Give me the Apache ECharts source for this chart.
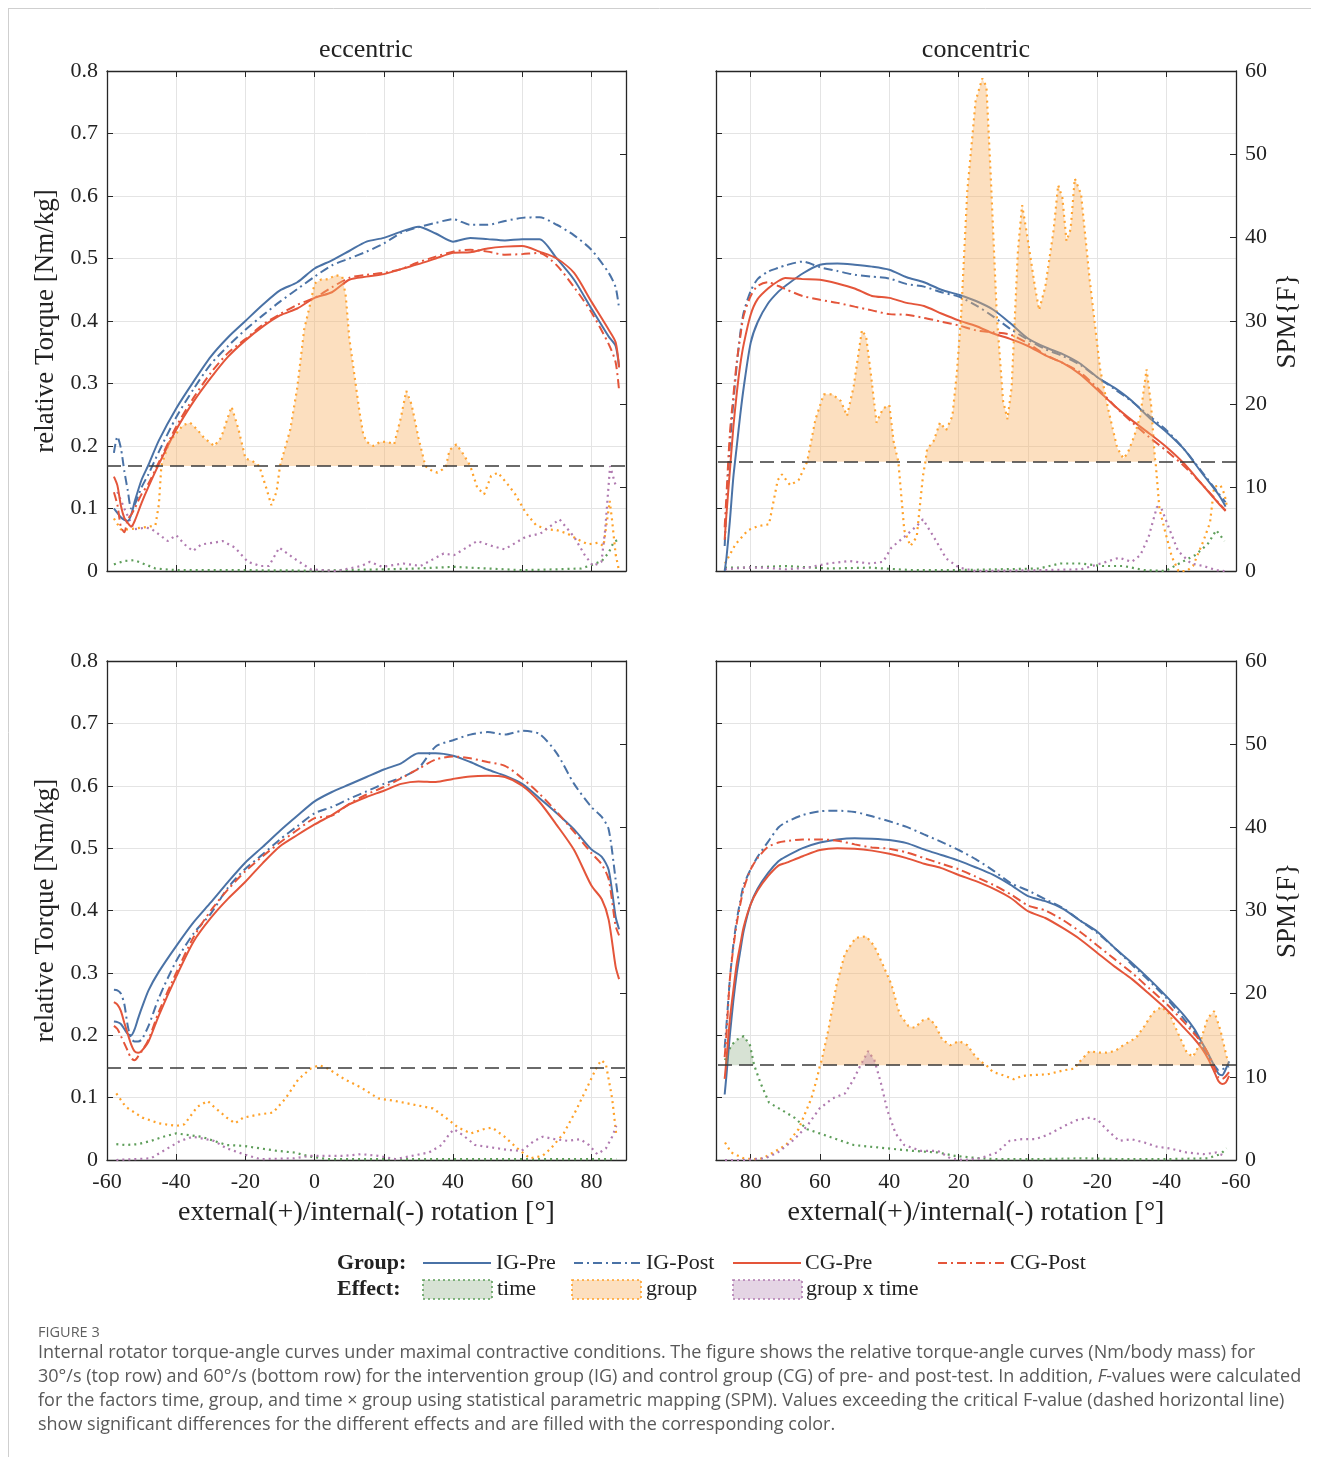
<!DOCTYPE html>
<html><head><meta charset="utf-8">
<script src="https://cdn.jsdelivr.net/npm/echarts@6/dist/echarts.min.js"></script>
<style>html,body{margin:0;padding:0;background:#fff}#c{width:1319px;height:1457px}</style>
</head><body><div id="c"></div>
<script>
// ---------------- DATA ----------------
// Top-left: eccentric 30°/s
const TL_ANG = [-58,-57,-56,-55,-54,-53,-52,-50,-48,-45,-40,-35,-30,-25,-20,-15,-10,-5,0,5,10,15,20,25,30,35,40,45,50,55,60,65,70,75,80,85,87,88];
const TL_IG_PRE  = [0.100,0.093,0.086,0.082,0.080,0.090,0.111,0.146,0.170,0.209,0.260,0.303,0.343,0.374,0.400,0.426,0.449,0.462,0.484,0.497,0.512,0.527,0.533,0.543,0.551,0.540,0.527,0.533,0.531,0.529,0.531,0.531,0.500,0.466,0.420,0.375,0.360,0.326];
const TL_IG_POST = [0.189,0.215,0.197,0.160,0.129,0.100,0.106,0.134,0.155,0.191,0.246,0.291,0.331,0.360,0.386,0.409,0.431,0.451,0.471,0.489,0.500,0.511,0.524,0.541,0.550,0.557,0.563,0.554,0.554,0.560,0.565,0.566,0.554,0.537,0.514,0.477,0.454,0.420];
const TL_CG_PRE  = [0.151,0.137,0.105,0.085,0.077,0.071,0.080,0.109,0.135,0.171,0.226,0.271,0.309,0.343,0.369,0.391,0.409,0.420,0.437,0.446,0.466,0.471,0.475,0.483,0.491,0.500,0.509,0.510,0.516,0.519,0.520,0.511,0.500,0.477,0.431,0.386,0.366,0.326];
const TL_CG_POST = [0.126,0.106,0.071,0.062,0.083,0.090,0.100,0.123,0.140,0.174,0.231,0.277,0.317,0.349,0.371,0.394,0.411,0.426,0.437,0.454,0.469,0.474,0.477,0.483,0.494,0.503,0.511,0.514,0.511,0.506,0.507,0.509,0.489,0.454,0.414,0.363,0.334,0.289];
const TL_TIME  = [[-58,0.8],[-55,1.2],[-52,1.3],[-49,0.8],[-46,0.3],[-40,0.1],[-20,0.1],[0,0.05],[20,0.2],[30,0.3],[40,0.5],[50,0.3],[60,0.1],[70,0.2],[77,0.3],[80,0.7],[83,1.2],[85,2.2],[86.5,3.5],[88,3.8]];
const TL_GROUP = [[-58,6.3],[-56,5.0],[-54,5.0],[-52,5.1],[-50,5.2],[-48,5.3],[-46,5.5],[-45,8.0],[-44.3,12.6],[-42,15.5],[-40,16.5],[-38,17.5],[-36,17.8],[-34,17.0],[-32,16.0],[-29,15.0],[-27,16.0],[-25,18.5],[-24,19.7],[-22,17.0],[-20,13.5],[-18,13.2],[-16,12.6],[-14,10.0],[-12.5,7.9],[-11,9.5],[-10,12.6],[-7,17.0],[-5,22.0],[-3,29.0],[-1,32.5],[0,34.5],[2,35.0],[4,35.0],[6,35.5],[8,35.3],[9,33.0],[10,28.0],[11,25.0],[12,22.0],[13,19.0],[14,16.5],[15,15.5],[17,15.0],[19,15.5],[21,15.5],[23,15.2],[25,18.5],[26.5,21.6],[28,20.0],[30,16.0],[32,12.6],[34,12.0],[35.5,11.8],[37,12.2],[38,12.6],[39,14.5],[41,15.2],[43,14.0],[45,12.6],[47,10.0],[49,9.2],[51,11.4],[53,11.8],[56,10.3],[58,9.2],[61,7.0],[64,5.5],[67,5.0],[70,4.9],[73,4.5],[76,3.8],[79,3.2],[82,3.4],[83.5,3.0],[84.5,6.0],[85.3,8.4],[86,6.0],[87,2.0],[88,0]];
const TL_GXT   = [[-57,9.5],[-55,7.5],[-52.2,5.0],[-49,5.2],[-47.3,5.1],[-45,4.4],[-42.5,3.6],[-40,4.3],[-37.6,3.2],[-35.2,2.4],[-32.7,3.2],[-29,3.4],[-26.6,3.6],[-23,2.8],[-19.3,1.1],[-15.7,0.6],[-13.2,0.6],[-10.2,2.8],[-5.9,1.5],[-1.1,0.2],[6.2,0],[13.5,0.6],[16,1.1],[19.6,0.5],[25.7,0.9],[30.6,0.6],[37.3,2.1],[40.3,1.9],[47,3.6],[51.3,3.0],[54.9,2.6],[61,4.1],[65.3,4.5],[70.8,6.2],[75,4.1],[78.1,1.9],[80.5,0.6],[82.9,1.1],[84,5.0],[85.4,12.6],[87.2,10.0]];
const TL_CRIT = 12.6;

// Top-right: concentric 30°/s
const TR_ANG = [87.5,87,86,85,84,83,82,80,78,75,72,70,65,60,55,50,45,40,35,30,25,20,15,10,5,0,-5,-10,-15,-20,-25,-30,-35,-40,-45,-50,-55,-57];
const TR_IG_PRE  = [0.0,0.02,0.08,0.15,0.2,0.25,0.294,0.365,0.398,0.428,0.447,0.456,0.476,0.49,0.492,0.49,0.487,0.482,0.47,0.462,0.45,0.442,0.432,0.418,0.396,0.372,0.358,0.347,0.332,0.31,0.293,0.272,0.245,0.222,0.195,0.158,0.122,0.103];
const TR_IG_POST = [0.04,0.1,0.2,0.27,0.33,0.38,0.414,0.448,0.467,0.479,0.485,0.489,0.495,0.486,0.48,0.474,0.471,0.468,0.459,0.455,0.446,0.439,0.425,0.407,0.387,0.37,0.355,0.344,0.33,0.31,0.291,0.271,0.248,0.225,0.195,0.16,0.124,0.11];
const TR_CG_PRE  = [0.05,0.09,0.16,0.23,0.285,0.33,0.363,0.41,0.435,0.452,0.464,0.469,0.467,0.466,0.46,0.452,0.44,0.437,0.429,0.424,0.412,0.401,0.392,0.38,0.371,0.36,0.345,0.333,0.315,0.29,0.264,0.241,0.22,0.198,0.172,0.14,0.108,0.096];
const TR_CG_POST = [0.07,0.12,0.22,0.28,0.335,0.375,0.409,0.44,0.456,0.462,0.456,0.451,0.44,0.434,0.429,0.423,0.417,0.411,0.41,0.405,0.399,0.393,0.385,0.382,0.378,0.364,0.346,0.333,0.318,0.293,0.264,0.238,0.214,0.192,0.168,0.14,0.109,0.097];
const TR_TIME  = [[87.4,0.4],[82,0.4],[69.8,0.6],[57.6,0.3],[45.5,0.4],[33.3,0.1],[21.1,0.1],[9,0.2],[-3.2,0.3],[-9.3,0.9],[-15.3,0.9],[-21.4,0.6],[-27.5,0.6],[-33.6,0.1],[-39.7,0],[-44.5,1.1],[-48.2,1.9],[-51.8,3.2],[-54.3,4.9],[-56.7,3.6]];
const TR_GROUP = [[87.4,0.9],[84.4,3.2],[80.8,4.9],[77.7,5.4],[74.7,5.6],[72.2,10.9],[71,11.6],[68.6,10.3],[66.2,10.9],[63.7,13.1],[61.3,18.2],[58.9,21.2],[56.4,21.2],[54,20.4],[52.2,18.6],[50.3,22.1],[47.9,28.9],[46.7,28.1],[45.5,24.2],[43.7,17.8],[41.8,19.5],[40,19.9],[38.8,15.6],[37.4,13.1],[35.7,4.9],[33.9,3.0],[32.1,4.1],[30.3,11.4],[29.6,13.1],[29.1,14.6],[27.2,15.6],[25.4,17.8],[23.6,16.9],[21.8,18.6],[20.5,23.8],[19.3,30.6],[17.5,45.6],[15.1,56.4],[13.2,59.1],[12,58.1],[10.8,47.8],[9,30.6],[7.2,20.4],[5.9,18.2],[4.7,22.1],[2.9,38.4],[1.7,43.9],[0.5,40.9],[-2,34.1],[-3.2,31.3],[-5,34.1],[-7.4,40.9],[-8.7,46.3],[-9.9,44.8],[-11.1,39.6],[-12.3,41.0],[-13.5,47.1],[-15.3,45.2],[-17.8,34.9],[-20.8,24.2],[-23.3,19.1],[-25.7,14.8],[-27.5,13.5],[-28.7,14.1],[-30.6,16.1],[-32.4,18.6],[-34.2,24.2],[-35.5,19.9],[-36.6,13.5],[-36.8,13.1],[-37.9,7.5],[-39.7,4.5],[-41.5,1.7],[-43.4,0],[-45.8,0],[-47.6,0.6],[-50.6,3.6],[-52.5,5.8],[-53.7,10.1],[-55.5,10.3],[-56.7,9.2],[-57.3,7.9]];
const TR_GXT   = [[87.4,0.2],[82,0.4],[75.9,0.4],[69.8,0.2],[63.7,0.4],[57.6,0.9],[51.6,1.2],[45.5,0.9],[41.8,1.1],[39.4,2.8],[35.7,4.1],[32.1,5.4],[30.3,6.2],[27.2,4.1],[23.6,1.5],[19.9,0.4],[15.1,0],[-3.2,0.1],[-15.3,0.2],[-22.6,1.1],[-26.3,1.6],[-29.9,1.1],[-32.4,1.9],[-34.8,4.1],[-37.2,7.7],[-38.5,7.5],[-40.9,4.9],[-43.3,2.4],[-47,0.9],[-50.6,0.6],[-54.3,0.1],[-56.7,0]];
const TR_CRIT = 13.1;

// Bottom-left: eccentric 60°/s
const BL_ANG = [-58,-57,-56,-55,-54,-53,-52,-51,-50,-48,-45,-40,-35,-30,-25,-20,-15,-10,-5,0,5,10,15,20,25,30,35,40,45,50,55,60,65,70,75,80,83,85,87,88];
const BL_IG_PRE  = [0.222,0.221,0.218,0.21,0.202,0.2,0.21,0.227,0.243,0.272,0.302,0.343,0.381,0.413,0.446,0.477,0.502,0.528,0.552,0.575,0.59,0.602,0.614,0.626,0.636,0.652,0.652,0.648,0.638,0.626,0.616,0.603,0.58,0.556,0.53,0.498,0.486,0.465,0.39,0.37];
const BL_IG_POST = [0.273,0.272,0.267,0.25,0.215,0.194,0.19,0.19,0.193,0.215,0.26,0.319,0.363,0.395,0.437,0.467,0.49,0.514,0.535,0.556,0.566,0.579,0.591,0.603,0.613,0.628,0.663,0.673,0.682,0.686,0.682,0.688,0.683,0.652,0.603,0.566,0.55,0.53,0.45,0.41];
const BL_CG_PRE  = [0.253,0.249,0.239,0.22,0.202,0.185,0.174,0.172,0.175,0.19,0.232,0.294,0.35,0.388,0.419,0.446,0.476,0.503,0.521,0.538,0.553,0.57,0.582,0.592,0.603,0.607,0.606,0.611,0.615,0.616,0.614,0.6,0.574,0.537,0.497,0.44,0.418,0.385,0.31,0.29];
const BL_CG_POST = [0.215,0.21,0.199,0.187,0.175,0.163,0.16,0.166,0.174,0.193,0.238,0.3,0.357,0.4,0.434,0.463,0.487,0.509,0.529,0.548,0.552,0.571,0.586,0.598,0.612,0.627,0.642,0.647,0.644,0.638,0.632,0.612,0.587,0.558,0.526,0.492,0.474,0.45,0.375,0.36];
const BL_TIME  = [[-57.3,1.9],[-54.6,1.8],[-51,1.9],[-47.3,2.3],[-43.7,2.8],[-40,3.2],[-36.4,3.0],[-32.7,2.8],[-29.1,2.3],[-25.4,1.8],[-20.6,1.7],[-15.7,1.4],[-10.8,1.1],[-5.9,0.9],[-1.1,0.4],[3.8,0.1],[30,0.1],[60,0.1],[87.2,0.1]];
const BL_GROUP = [[-57.3,8.0],[-54.6,6.4],[-49.8,5.1],[-44.9,4.4],[-40,4.1],[-37.6,4.3],[-33.9,6.4],[-30.9,7.1],[-29.1,6.4],[-25.4,5.1],[-23,4.4],[-20.6,5.1],[-15.7,5.5],[-12,5.7],[-8.4,7.4],[-4.7,9.7],[-1.1,11.0],[1.4,11.4],[3.8,11.0],[8.7,9.7],[13.5,8.7],[18.4,7.4],[23.3,7.1],[28.1,6.7],[34.2,6.2],[37.9,5.1],[41.5,3.9],[45.2,3.2],[48.8,3.7],[51.3,3.9],[54.9,2.8],[58.6,1.4],[62.2,0.2],[65.9,0.5],[68.3,1.4],[72,3.2],[75.6,6.0],[79.3,9.2],[81.7,11.3],[82.9,12.0],[84.2,11.5],[86,7.4],[87.2,3.0]];
const BL_GXT   = [[-57.3,0],[-47.3,0.2],[-42.5,1.4],[-38.8,2.3],[-35.2,2.8],[-32.7,2.6],[-29.1,2.3],[-25.4,1.4],[-20.6,0.7],[-15.7,0.1],[-5.9,0.2],[-1.1,0.5],[8.7,0.5],[13.5,0.7],[18.4,0.5],[23.3,0.1],[28.1,0.5],[33,0.9],[36.7,1.8],[39.1,3.2],[40.3,3.7],[42.8,3.0],[46.4,1.8],[51.3,1.5],[56.1,1.2],[59.8,1.1],[63.5,2.3],[65.9,2.8],[69.5,2.5],[73.2,2.3],[76.8,2.5],[79.3,1.8],[81.7,0.7],[84.2,1.4],[86,2.8],[87.2,4.1]];
const BL_CRIT = 11.1;

// Bottom-right: concentric 60°/s
const BR_ANG = [87.5,87,86,85,84,83,82,80,78,75,72,70,65,60,55,50,45,40,35,30,25,20,15,10,5,0,-5,-10,-15,-20,-25,-30,-35,-40,-45,-48,-50,-52,-54,-55,-56,-57,-58];
const BR_IG_PRE  = [0.105,0.135,0.2,0.255,0.3,0.335,0.368,0.41,0.435,0.46,0.479,0.486,0.5,0.509,0.514,0.516,0.515,0.513,0.508,0.498,0.489,0.48,0.469,0.457,0.441,0.423,0.415,0.403,0.384,0.366,0.34,0.316,0.29,0.262,0.232,0.21,0.19,0.17,0.148,0.138,0.136,0.145,0.158];
const BR_IG_POST = [0.18,0.215,0.29,0.345,0.385,0.415,0.441,0.466,0.486,0.51,0.533,0.541,0.553,0.559,0.56,0.558,0.551,0.543,0.534,0.522,0.51,0.497,0.482,0.464,0.444,0.432,0.418,0.404,0.384,0.364,0.34,0.313,0.287,0.259,0.226,0.206,0.184,0.165,0.15,0.144,0.145,0.148,0.15];
const BR_CG_PRE  = [0.13,0.16,0.225,0.272,0.315,0.345,0.374,0.41,0.432,0.455,0.472,0.476,0.487,0.497,0.5,0.499,0.496,0.491,0.484,0.475,0.468,0.457,0.447,0.435,0.42,0.399,0.388,0.372,0.354,0.332,0.31,0.29,0.266,0.241,0.212,0.194,0.18,0.162,0.138,0.126,0.122,0.124,0.135];
const BR_CG_POST = [0.165,0.2,0.29,0.34,0.38,0.41,0.435,0.466,0.484,0.502,0.509,0.511,0.514,0.514,0.512,0.506,0.501,0.499,0.493,0.484,0.475,0.466,0.454,0.441,0.426,0.408,0.4,0.385,0.366,0.344,0.322,0.3,0.275,0.25,0.221,0.202,0.189,0.17,0.145,0.132,0.13,0.134,0.141];
const BR_TIME  = [[87.4,12.0],[85.6,13.8],[83.8,14.5],[82,14.9],[80.2,13.8],[79,11.4],[77.1,9.2],[74.7,6.9],[71,6.0],[67.4,5.1],[63.7,3.7],[60.1,3.2],[55.2,2.5],[50.3,1.8],[45.5,1.6],[40.6,1.4],[33.3,1.1],[26,0.9],[21.1,0.5],[13.8,0.2],[9,0.1],[-3.2,0.1],[-15.3,0.2],[-27.5,0.1],[-39.7,0.1],[-51.8,0.2],[-55.5,0.7],[-57.3,1.4]];
const BR_GROUP = [[87.4,2.1],[85.6,0.9],[82,0.2],[79.5,0.1],[76.5,0.2],[73.5,0.9],[69.8,1.8],[66.2,3.7],[62.5,7.4],[60.7,10.1],[60,11.4],[59.5,12.0],[57.6,15.6],[55.2,21.1],[52.8,24.8],[49.7,26.7],[46.7,26.9],[44.3,25.7],[41.8,23.4],[39.4,21.1],[37,17.5],[34.5,16.1],[32.7,15.9],[30.3,16.8],[28.4,17.0],[26.6,16.1],[24.8,14.5],[22.4,13.8],[19.9,14.3],[17.5,13.8],[15.1,12.4],[12.6,11.5],[12,11.4],[10.2,10.6],[6.5,10.1],[4.1,9.7],[1.7,10.1],[-0.8,10.2],[-5.6,10.3],[-10.5,10.8],[-13.5,11.0],[-14.1,11.4],[-15.3,12.0],[-17.8,13.1],[-20.2,12.9],[-22.6,12.9],[-25.1,13.1],[-27.5,13.8],[-31.2,14.7],[-33.6,16.1],[-36,17.7],[-38.5,18.4],[-40.9,17.5],[-43.3,15.2],[-45.8,12.9],[-47.6,12.4],[-49.4,13.8],[-51.8,17.0],[-53.7,17.9],[-55.5,15.6],[-57.3,12.4],[-57.9,11.8]];
const BR_GXT   = [[87.4,0],[82,0],[75.9,0.2],[72.2,0.9],[67.4,2.5],[63.7,4.1],[60.1,6.2],[56.4,7.4],[52.8,8.0],[50.3,9.7],[48.3,11.4],[46.1,13.1],[44.3,12.0],[43.9,11.4],[42.4,9.2],[40.6,6.0],[38.2,3.2],[35.7,1.8],[30.9,1.1],[26,1.1],[22.4,0.2],[18.7,0],[13.8,0.2],[9,0.9],[5.3,2.3],[1.7,2.5],[-2,2.5],[-5.6,3.0],[-10.5,4.1],[-14.1,4.8],[-17.8,5.1],[-20.2,4.8],[-22.6,3.7],[-26.3,2.3],[-29.9,2.5],[-33.6,2.1],[-37.2,1.6],[-40.9,1.4],[-45.8,0.9],[-50.6,0.7],[-54.3,0.9],[-56.7,0.5]];
const BR_CRIT = 11.4;

// Axis tick settings / labels
const X_MIN = -60, X_MAX = 90, X_STEP = 20;
const T_MIN = 0, T_MAX = 0.8, T_STEP = 0.1;
const F_MIN = 0, F_MAX = 60, F_STEP = 10;
const TITLES = ['eccentric', 'concentric'];
const X_NAME = 'external(+)/internal(-) rotation [°]';
const YL_NAME = 'relative Torque [Nm/kg]';
const YR_NAME = 'SPM{F}';
const GROUP_NAMES = ['IG-Pre', 'IG-Post', 'CG-Pre', 'CG-Post'];
const EFFECT_NAMES = ['time', 'group', 'group x time'];

// ---------------- STYLE ----------------
const SERIF = "'Liberation Serif','DejaVu Serif',serif";
const SANS = "'Open Sans','Noto Sans','Liberation Sans',sans-serif";
const AX = '#262626';
const BLUE = '#4a72a6', RED = '#e4553a';
const DASHDOT = [9, 4, 2, 4];
const EFF_LINE = {time: '#5e9e5a', group: '#ffa128', gxt: '#b07ab0'};
const EFF_FILL = {time: 'rgba(110,150,100,0.28)', group: 'rgba(247,178,103,0.42)', gxt: 'rgba(170,120,170,0.32)'};

const panels = [
  {ang: TL_ANG, curves: [TL_IG_PRE, TL_IG_POST, TL_CG_PRE, TL_CG_POST], eff: {time: TL_TIME, group: TL_GROUP, gxt: TL_GXT}, crit: TL_CRIT, fill: ['group'],
   box: {left: 107, top: 71, width: 519, height: 500}, inv: false, showX: false, showL: true, showR: false},
  {ang: TR_ANG, curves: [TR_IG_PRE, TR_IG_POST, TR_CG_PRE, TR_CG_POST], eff: {time: TR_TIME, group: TR_GROUP, gxt: TR_GXT}, crit: TR_CRIT, fill: ['group'],
   box: {left: 716, top: 71, width: 520, height: 500}, inv: true, showX: false, showL: false, showR: true},
  {ang: BL_ANG, curves: [BL_IG_PRE, BL_IG_POST, BL_CG_PRE, BL_CG_POST], eff: {time: BL_TIME, group: BL_GROUP, gxt: BL_GXT}, crit: BL_CRIT, fill: [],
   box: {left: 107, top: 661, width: 519, height: 499}, inv: false, showX: true, showL: true, showR: false},
  {ang: BR_ANG, curves: [BR_IG_PRE, BR_IG_POST, BR_CG_PRE, BR_CG_POST], eff: {time: BR_TIME, group: BR_GROUP, gxt: BR_GXT}, crit: BR_CRIT, fill: ['time', 'group', 'gxt'],
   box: {left: 716, top: 661, width: 520, height: 499}, inv: true, showX: true, showL: false, showR: true}
];
const CURVE_STYLE = [[BLUE, 'solid'], [BLUE, DASHDOT], [RED, 'solid'], [RED, DASHDOT]];

const grids = [], xAxes = [], yAxes = [], series = [];
const axLine = {show: true, onZero: false, lineStyle: {color: AX, width: 1.3}};
const axTick = {show: true, inside: true, length: 6, lineStyle: {color: AX, width: 1}};
const labelStyle = {fontFamily: SERIF, fontSize: 22, color: '#222'};
const nameStyle = {fontFamily: SERIF, fontSize: 28, color: '#222'};

panels.forEach((p, gi) => {
  grids.push(Object.assign({}, p.box));
  const xc = {type: 'value', gridIndex: gi, min: X_MIN, max: X_MAX, interval: X_STEP, inverse: p.inv, axisLine: axLine, axisTick: axTick};
  xAxes.push(Object.assign({}, xc, {position: 'bottom',
    axisLabel: Object.assign({show: p.showX, showMaxLabel: false, margin: 11}, labelStyle),
    splitLine: {show: true, lineStyle: {color: '#e4e4e4', width: 1}},
    name: p.showX ? X_NAME : '', nameLocation: 'middle', nameGap: 39, nameTextStyle: nameStyle}));
  xAxes.push(Object.assign({}, xc, {position: 'top', axisLabel: {show: false}, splitLine: {show: false}}));
  yAxes.push({type: 'value', gridIndex: gi, min: T_MIN, max: T_MAX, interval: T_STEP, position: 'left', axisLine: axLine, axisTick: axTick,
    axisLabel: Object.assign({show: p.showL, margin: 9, formatter: v => v === 0 ? '0' : v.toFixed(1)}, labelStyle),
    splitLine: {show: true, lineStyle: {color: '#e4e4e4', width: 1}},
    name: p.showL ? YL_NAME : '', nameLocation: 'middle', nameGap: 48, nameRotate: 90, nameTextStyle: Object.assign({}, nameStyle, {fontSize: 27})});
  yAxes.push({type: 'value', gridIndex: gi, min: F_MIN, max: F_MAX, interval: F_STEP, position: 'right', axisLine: axLine, axisTick: axTick,
    axisLabel: Object.assign({show: p.showR, margin: 9}, labelStyle), splitLine: {show: false},
    name: p.showR ? YR_NAME : '', nameLocation: 'middle', nameGap: 38, nameRotate: 90, nameTextStyle: Object.assign({}, nameStyle, {fontSize: 27})});

  // effect F curves (right axis)
  ['time', 'group', 'gxt'].forEach(k => {
    const s = {type: 'line', xAxisIndex: 2 * gi, yAxisIndex: 2 * gi + 1, data: p.eff[k], showSymbol: false, symbol: 'none',
      lineStyle: {color: EFF_LINE[k], width: 2.2, type: [2, 4], cap: 'butt'}, z: 2, silent: true};
    if (k === 'group') {
      s.markLine = {silent: true, symbol: ['none', 'none'], label: {show: false}, animation: false,
        lineStyle: {color: '#3a3a3a', type: [14, 7], width: 1.5}, data: [{yAxis: p.crit}], z: 6};
    }
    series.push(s);
  });
  // torque curves (left axis)
  p.curves.forEach((vals, ci) => {
    series.push({type: 'line', name: GROUP_NAMES[ci], xAxisIndex: 2 * gi, yAxisIndex: 2 * gi, data: p.ang.map((a, i) => [a, vals[i]]),
      showSymbol: false, symbol: 'none', smooth: 0.25,
      lineStyle: {color: CURVE_STYLE[ci][0], width: 2, type: CURVE_STYLE[ci][1]}, z: 3, silent: true});
  });
  // supra-threshold fills
  p.fill.forEach(k => {
    series.push({type: 'line', xAxisIndex: 2 * gi, yAxisIndex: 2 * gi + 1,
      data: p.eff[k].map(([a, f]) => [a, Math.max(f, p.crit)]), showSymbol: false, symbol: 'none',
      lineStyle: {width: 0, opacity: 0}, areaStyle: {origin: p.crit, color: EFF_FILL[k], opacity: 1}, z: 4, silent: true});
  });
});

// ---------------- GRAPHICS (titles, legend, caption, frame) ----------------
const g = [];
g.push({type: 'line', shape: {x1: 8, y1: 8.5, x2: 1311, y2: 8.5}, style: {stroke: '#cfcfcf', lineWidth: 1}});
g.push({type: 'line', shape: {x1: 8.5, y1: 8, x2: 8.5, y2: 1457}, style: {stroke: '#cfcfcf', lineWidth: 1}});
g.push({type: 'text', x: 366, y: 50, style: {text: TITLES[0], fontFamily: SERIF, fontSize: 26, fill: '#222', align: 'center', verticalAlign: 'middle'}});
g.push({type: 'text', x: 976, y: 50, style: {text: TITLES[1], fontFamily: SERIF, fontSize: 26, fill: '#222', align: 'center', verticalAlign: 'middle'}});

const LEG_Y1 = 1263, LEG_Y2 = 1289;
g.push({type: 'text', x: 337, y: LEG_Y1, style: {text: 'Group:', fontFamily: SERIF, fontSize: 22, fontWeight: 'bold', fill: '#222', align: 'left', verticalAlign: 'middle'}});
g.push({type: 'text', x: 337, y: LEG_Y2, style: {text: 'Effect:', fontFamily: SERIF, fontSize: 22, fontWeight: 'bold', fill: '#222', align: 'left', verticalAlign: 'middle'}});
const legLines = [[423, 491, 496], [574, 642, 646], [733, 801, 805], [938, 1007, 1010]];
legLines.forEach((l, i) => {
  g.push({type: 'line', shape: {x1: l[0], y1: LEG_Y1, x2: l[1], y2: LEG_Y1},
    style: {stroke: CURVE_STYLE[i][0], lineWidth: 2, lineDash: CURVE_STYLE[i][1] === 'solid' ? null : DASHDOT}});
  g.push({type: 'text', x: l[2], y: LEG_Y1, style: {text: GROUP_NAMES[i], fontFamily: SERIF, fontSize: 22, fill: '#222', align: 'left', verticalAlign: 'middle'}});
});
const legRects = [[423, 'time', 497], [572, 'group', 646], [733, 'gxt', 806]];
legRects.forEach((r, i) => {
  g.push({type: 'rect', shape: {x: r[0], y: LEG_Y2 - 9, width: 69, height: 19},
    style: {fill: EFF_FILL[r[1]], stroke: EFF_LINE[r[1]], lineWidth: 1.6, lineDash: [2, 3]}});
  g.push({type: 'text', x: r[2], y: LEG_Y2, style: {text: EFFECT_NAMES[i], fontFamily: SERIF, fontSize: 22, fill: '#222', align: 'left', verticalAlign: 'middle'}});
});

const CAP = '#595959';
g.push({type: 'text', x: 38, y: 1333, style: {text: 'FIGURE 3', fontFamily: SANS, fontSize: 14.5, fill: '#5f5f5f', align: 'left', verticalAlign: 'middle'}});
const capLines = [
  'Internal rotator torque-angle curves under maximal contractive conditions. The figure shows the relative torque-angle curves (Nm/body mass) for',
  '30°/s (top row) and 60°/s (bottom row) for the intervention group (IG) and control group (CG) of pre- and post-test. In addition, {i|F}-values were calculated',
  'for the factors time, group, and time × group using statistical parametric mapping (SPM). Values exceeding the critical F-value (dashed horizontal line)',
  'show significant differences for the different effects and are filled with the corresponding color.'
];
capLines.forEach((t, i) => {
  g.push({type: 'text', x: 38, y: 1353 + 24 * i, style: {text: t, fontFamily: SANS, fontSize: 18, fill: CAP, align: 'left', verticalAlign: 'middle',
    rich: {i: {fontFamily: SANS, fontSize: 18, fontStyle: 'italic', fill: CAP}}}});
});

const chart = echarts.init(document.getElementById('c'), null, {renderer: 'canvas'});
chart.setOption({
  animation: false,
  backgroundColor: '#fff',
  textStyle: {fontFamily: SERIF},
  grid: grids, xAxis: xAxes, yAxis: yAxes, series: series, graphic: g
});
</script></body></html>
